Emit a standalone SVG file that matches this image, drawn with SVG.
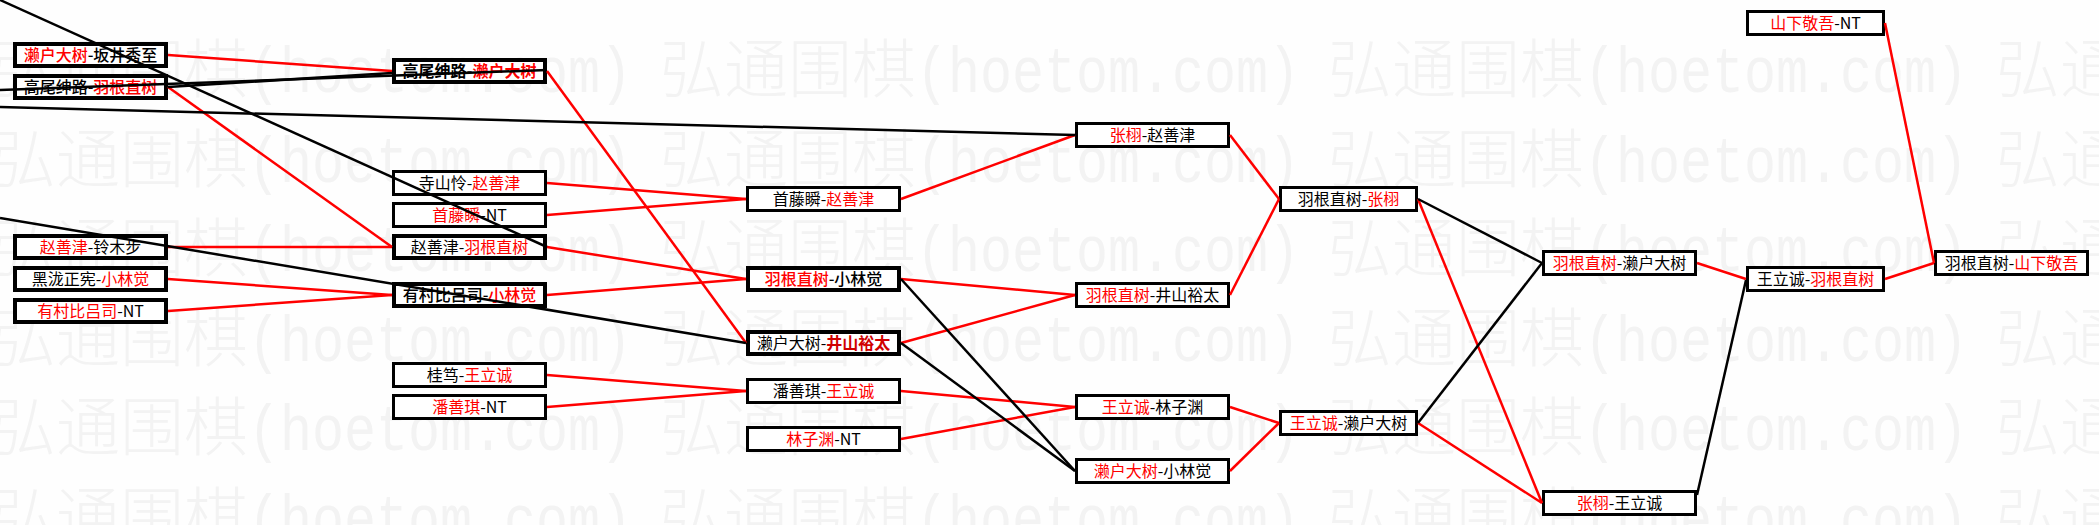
<svg xmlns="http://www.w3.org/2000/svg" xmlns:xlink="http://www.w3.org/1999/xlink" width="2099" height="525" viewBox="0 0 2099 525">
<style>
.bg{fill:#fefefe}
.box{fill:#fff;stroke:#000;stroke-width:3}
.bx{stroke-width:4}
.t{font-family:"Noto Sans CJK SC","Noto Sans",sans-serif;font-size:16px;fill:#000;text-anchor:middle}
.r{fill:#f00}
.b{font-weight:500}
.bb{font-weight:bold}
.rb{fill:#d00000;font-weight:bold}
.lr{stroke:#f00;stroke-width:2.5;fill:none}
.lk{stroke:#000;stroke-width:2.5;fill:none}
.wc{font-family:"Noto Sans CJK SC",sans-serif;font-size:64px;font-weight:300;fill:#f3f3f3}
.wa{font-family:"Liberation Mono",monospace;font-size:64px;fill:#f3f3f3}
</style>
<defs>
<g id="wm">
<text class="wc" x="0" y="0">弘通围棋</text>
<text class="wa" x="256" y="0" textLength="384" lengthAdjust="spacingAndGlyphs">(hoetom.com)</text>
</g>
<g id="wrow">
<use xlink:href="#wm" x="-8"/>
<use xlink:href="#wm" x="660"/>
<use xlink:href="#wm" x="1328"/>
<use xlink:href="#wm" x="1996"/>
</g>
</defs>
<rect class="bg" x="0" y="0" width="2099" height="525"/>
<g id="watermark">
<use xlink:href="#wrow" y="92"/>
<use xlink:href="#wrow" y="181.5"/>
<use xlink:href="#wrow" y="271"/>
<use xlink:href="#wrow" y="360.5"/>
<use xlink:href="#wrow" y="450"/>
<use xlink:href="#wrow" y="539.5"/>
</g>

<g id="A1"><rect class="box bx" x="15" y="44" width="151" height="22"/><text class="t b" x="90.5" y="61"><tspan class="r">濑户大树</tspan>-坂井秀至</text></g>
<g id="A2"><rect class="box bx" x="15" y="76" width="151" height="22"/><text class="t b" x="90.5" y="93">高尾绅路-<tspan class="r">羽根直树</tspan></text></g>
<g id="A3"><rect class="box bx" x="15" y="236" width="151" height="22"/><text class="t" x="90.5" y="253"><tspan class="r">赵善津</tspan>-铃木步</text></g>
<g id="A4"><rect class="box bx" x="15" y="268" width="151" height="22"/><text class="t" x="90.5" y="285">黑泷正宪-<tspan class="r">小林觉</tspan></text></g>
<g id="A5"><rect class="box bx" x="15" y="300" width="151" height="22"/><text class="t" x="90.5" y="317"><tspan class="r">有村比吕司</tspan>-NT</text></g>

<g id="B1"><rect class="box bx" x="394" y="60" width="151" height="22"/><text class="t bb" x="469.5" y="77">高尾绅路-<tspan class="r">濑户大树</tspan></text></g>
<g id="B2"><rect class="box" x="393.5" y="171.5" width="152" height="23"/><text class="t" x="469.5" y="189">寺山怜-<tspan class="r">赵善津</tspan></text></g>
<g id="B3"><rect class="box" x="393.5" y="203.5" width="152" height="23"/><text class="t" x="469.5" y="221"><tspan class="r">首藤瞬</tspan>-NT</text></g>
<g id="B4"><rect class="box bx" x="394" y="236" width="151" height="22"/><text class="t" x="469.5" y="253">赵善津-<tspan class="r">羽根直树</tspan></text></g>
<g id="B5"><rect class="box bx" x="394" y="284" width="151" height="22"/><text class="t b" x="469.5" y="301">有村比吕司-<tspan class="r">小林觉</tspan></text></g>
<g id="B6"><rect class="box" x="393.5" y="363.5" width="152" height="23"/><text class="t" x="469.5" y="381">桂笃-<tspan class="r">王立诚</tspan></text></g>
<g id="B7"><rect class="box" x="393.5" y="395.5" width="152" height="23"/><text class="t" x="469.5" y="413"><tspan class="r">潘善琪</tspan>-NT</text></g>

<g id="C1"><rect class="box" x="747.5" y="187.5" width="152" height="23"/><text class="t" x="823.5" y="205">首藤瞬-<tspan class="r">赵善津</tspan></text></g>
<g id="C2"><rect class="box bx" x="748" y="268" width="151" height="22"/><text class="t b" x="823.5" y="285"><tspan class="r">羽根直树</tspan>-小林觉</text></g>
<g id="C3"><rect class="box bx" x="748" y="332" width="151" height="22"/><text class="t" x="823.5" y="349">濑户大树-<tspan class="rb">井山裕太</tspan></text></g>
<g id="C4"><rect class="box" x="747.5" y="379.5" width="152" height="23"/><text class="t" x="823.5" y="397">潘善琪-<tspan class="r">王立诚</tspan></text></g>
<g id="C5"><rect class="box" x="747.5" y="427.5" width="152" height="23"/><text class="t" x="823.5" y="445"><tspan class="r">林子渊</tspan>-NT</text></g>

<g id="D1"><rect class="box" x="1076.5" y="123.5" width="152" height="23"/><text class="t" x="1152.5" y="141"><tspan class="r">张栩</tspan>-赵善津</text></g>
<g id="D2"><rect class="box" x="1076.5" y="283.5" width="152" height="23"/><text class="t" x="1152.5" y="301"><tspan class="r">羽根直树</tspan>-井山裕太</text></g>
<g id="D3"><rect class="box" x="1076.5" y="395.5" width="152" height="23"/><text class="t" x="1152.5" y="413"><tspan class="r">王立诚</tspan>-林子渊</text></g>
<g id="D4"><rect class="box" x="1076.5" y="459.5" width="152" height="23"/><text class="t" x="1152.5" y="477"><tspan class="r">濑户大树</tspan>-小林觉</text></g>

<g id="E1"><rect class="box" x="1280.5" y="187.5" width="136" height="23"/><text class="t" x="1348.5" y="205">羽根直树-<tspan class="r">张栩</tspan></text></g>
<g id="E2"><rect class="box" x="1280.5" y="411.5" width="136" height="23"/><text class="t" x="1348.5" y="429"><tspan class="r">王立诚</tspan>-濑户大树</text></g>

<g id="F1"><rect class="box" x="1543.5" y="251.5" width="152" height="23"/><text class="t" x="1619.5" y="269"><tspan class="r">羽根直树</tspan>-濑户大树</text></g>
<g id="F2"><rect class="box" x="1543.5" y="491.5" width="152" height="23"/><text class="t" x="1619.5" y="509"><tspan class="r">张栩</tspan>-王立诚</text></g>

<g id="G1"><rect class="box" x="1747.5" y="267.5" width="136" height="23"/><text class="t" x="1815.5" y="285">王立诚-<tspan class="r">羽根直树</tspan></text></g>
<g id="G2"><rect class="box" x="1747.5" y="11.5" width="136" height="23"/><text class="t" x="1815.5" y="29"><tspan class="r">山下敬吾</tspan>-NT</text></g>

<g id="H1"><rect class="box" x="1935.5" y="251.5" width="152" height="23"/><text class="t" x="2011.5" y="269">羽根直树-<tspan class="r">山下敬吾</tspan></text></g>

<g id="connectors">
<line class="lr" x1="168" y1="55" x2="392" y2="71"/>
<line class="lr" x1="168" y1="87" x2="392" y2="247"/>
<line class="lr" x1="547" y1="71" x2="746" y2="343"/>
<line class="lr" x1="547" y1="183" x2="746" y2="199"/>
<line class="lr" x1="547" y1="215" x2="746" y2="199"/>
<line class="lr" x1="168" y1="247" x2="392" y2="247"/>
<line class="lr" x1="547" y1="247" x2="746" y2="279"/>
<line class="lr" x1="168" y1="279" x2="392" y2="295"/>
<line class="lr" x1="168" y1="311" x2="392" y2="295"/>
<line class="lr" x1="547" y1="295" x2="746" y2="279"/>
<line class="lr" x1="547" y1="375" x2="746" y2="391"/>
<line class="lr" x1="547" y1="407" x2="746" y2="391"/>
<line class="lr" x1="901" y1="199" x2="1075" y2="135"/>
<line class="lr" x1="901" y1="279" x2="1075" y2="295"/>
<line class="lr" x1="901" y1="343" x2="1075" y2="295"/>
<line class="lr" x1="901" y1="391" x2="1075" y2="407"/>
<line class="lr" x1="901" y1="439" x2="1075" y2="407"/>
<line class="lr" x1="1230" y1="135" x2="1279" y2="199"/>
<line class="lr" x1="1230" y1="295" x2="1279" y2="199"/>
<line class="lr" x1="1230" y1="407" x2="1279" y2="423"/>
<line class="lr" x1="1230" y1="471" x2="1279" y2="423"/>
<line class="lr" x1="1418" y1="199" x2="1542" y2="503"/>
<line class="lr" x1="1418" y1="423" x2="1542" y2="503"/>
<line class="lr" x1="1697" y1="263" x2="1746" y2="279"/>
<line class="lr" x1="1885" y1="279" x2="1934" y2="263"/>
<line class="lr" x1="1885" y1="23" x2="1934" y2="263"/>
<line class="lk" x1="1418" y1="199" x2="1542" y2="263"/>
<line class="lk" x1="1418" y1="423" x2="1542" y2="263"/>
<line class="lk" x1="1697" y1="495" x2="1746" y2="280"/>
<line class="lk" x1="901" y1="279" x2="1075" y2="471"/>
<line class="lk" x1="901" y1="343" x2="1075" y2="471"/>
<line class="lk" x1="0" y1="107" x2="1075" y2="135"/>
<line class="lk" x1="0" y1="0" x2="547" y2="247"/>
<line class="lk" x1="0" y1="90" x2="547" y2="70"/>
<line class="lk" x1="168" y1="87" x2="392" y2="73"/>
<line class="lk" x1="0" y1="218" x2="746" y2="343"/>
</g>
</svg>
